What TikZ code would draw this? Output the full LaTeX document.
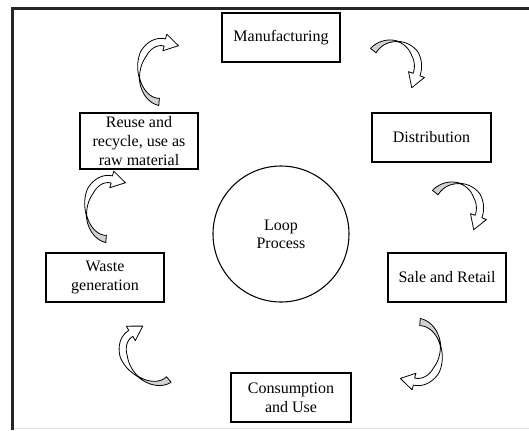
\documentclass[tikz,border=0pt]{standalone}
\usepackage{fontspec}
\setmainfont{Liberation Serif}
\usetikzlibrary{calc}

% Twisted block arrow drawn along an elliptic arc.
% #1,#2 centre, #3 rotation, #4,#5 radii, #6 tail angle, #7 head angle
\newcommand\twistarrow[7]{%
  \begin{scope}[shift={(#1,#2)}, rotate=#3]
    \pgfmathsetmacro\cvRx{#4}
    \pgfmathsetmacro\cvRy{#5}
    \pgfmathsetmacro\cvTa{#6}
    \pgfmathsetmacro\cvTb{#7}
    \pgfmathsetmacro\cvTg{\cvTa+0.42*(\cvTb-\cvTa)}
    \pgfmathsetmacro\cvTw{\cvTg-6}
    \pgfmathsetmacro\cvBx{\cvRx*cos(\cvTb)}
    \pgfmathsetmacro\cvBy{\cvRy*sin(\cvTb)}
    \pgfmathsetmacro\cvDx{-\cvRx*sin(\cvTb)}
    \pgfmathsetmacro\cvDy{\cvRy*cos(\cvTb)}
    \pgfmathsetmacro\cvDl{sqrt(\cvDx*\cvDx+\cvDy*\cvDy)}
    \pgfmathsetmacro\cvUx{\cvDx/\cvDl}
    \pgfmathsetmacro\cvUy{\cvDy/\cvDl}
    % back face near the tail
    \filldraw[arrowface, fill=gray!35]
      plot[domain=\cvTa:\cvTg, samples=30, variable=\s]
        ({(\cvRx+\cvHw*(\cvTg-\s)/(\cvTg-\cvTa))*cos(\s)},
         {(\cvRy+\cvHw*(\cvTg-\s)/(\cvTg-\cvTa))*sin(\s)})
      -- plot[domain=\cvTg:\cvTa, samples=30, variable=\s]
        ({(\cvRx-\cvHw*(\cvTg-\s)/(\cvTg-\cvTa))*cos(\s)},
         {(\cvRy-\cvHw*(\cvTg-\s)/(\cvTg-\cvTa))*sin(\s)})
      -- cycle;
    % front face with the head
    \filldraw[arrowface, fill=white]
      plot[domain=\cvTw:\cvTb, samples=40, variable=\s]
        ({(\cvRx+\cvHw*min(1,(\s-\cvTw)/50))*cos(\s)},
         {(\cvRy+\cvHw*min(1,(\s-\cvTw)/50))*sin(\s)})
      -- ({\cvBx+\cvHb*\cvUy},{\cvBy-\cvHb*\cvUx})
      -- ({\cvBx+\cvHl*\cvUx},{\cvBy+\cvHl*\cvUy})
      -- ({\cvBx-\cvHb*\cvUy},{\cvBy+\cvHb*\cvUx})
      -- plot[domain=\cvTb:\cvTw, samples=40, variable=\s]
        ({(\cvRx-\cvHw*min(1,(\s-\cvTw)/50))*cos(\s)},
         {(\cvRy-\cvHw*min(1,(\s-\cvTw)/50))*sin(\s)})
      -- cycle;
  \end{scope}}

\def\cvHw{3.6}  % half band width
\def\cvHb{8.5}  % half head width
\def\cvHl{14}   % head length

\tikzset{
  box/.style={draw, line width=0.8pt, inner sep=0pt, align=center,
    minimum width=88.5pt, minimum height=36.75pt,
    font=\fontsize{12}{14.5}\selectfont},
  arrowface/.style={draw=black, line width=0.6pt, line join=round},
  frame/.style={line width=1.8pt, draw=black!85, line join=miter}
}

\begin{document}
\begin{tikzpicture}[x=0.75pt, y=-0.75pt]
  \useasboundingbox (0,0) rectangle (529,430);

  % page frame
  \draw[gray!20, line width=0.5pt] (13,428.5) -- (529,428.5);
  \draw[frame] (12.5,430) -- (12.5,8.3) -- (529,8.3);

  % stages
  \node[box] (manu) at (281,37.5) {Manufacturing};
  \node[box, minimum width=89.25pt] (dist) at (431.5,137.5) {Distribution};
  \node[box] (sale) at (447,277.5) {Sale and Retail};
  \node[box, minimum width=90pt] (cons) at (291,397.5) {Consumption\\and Use};
  \node[box] (waste) at (105,277.5) {Waste\\generation};
  \node[box, minimum height=42pt] (reuse) at (139,141)
    {Reuse and\\recycle, use as\\raw material};

  \node[draw, circle, line width=0.8pt, minimum size=102pt, inner sep=0pt,
    align=center, font=\fontsize{12}{13.5}\selectfont] (loop) at (281,234)
    {Loop\\Process};

  % curved arrows between the stages
  \twistarrow{393}{66}{-90}{25}{25}{128}{290}
  \twistarrow{455}{208}{-90}{25}{25}{128}{290}
  \twistarrow{418}{352}{180}{23}{30}{95}{280}
  \twistarrow{149}{357}{45}{22}{30}{95}{280}
  \twistarrow{108}{209}{0}{22}{30}{95}{280}
  \twistarrow{161}{72}{0}{22}{30}{95}{280}
\end{tikzpicture}
\end{document}
